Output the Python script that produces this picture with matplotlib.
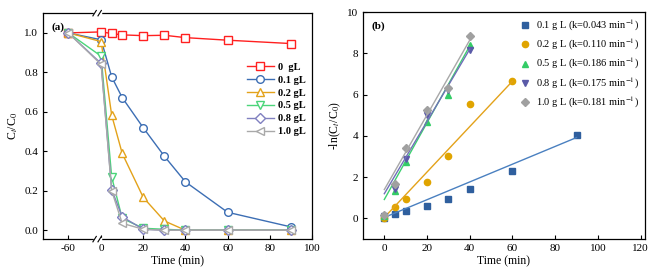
import numpy as np
import matplotlib
matplotlib.use("Agg")
import matplotlib.pyplot as plt
import matplotlib.transforms as mtransforms

plt.rcParams['font.family'] = ['Liberation Serif', 'DejaVu Serif']
plt.rcParams['font.size'] = 8
plt.rcParams['mathtext.fontset'] = 'stix'

# ---- panel (a) data ----
time_a = [-60, 0, 5, 10, 20, 30, 40, 60, 90]
labels_a = ['0  gL', '0.1 gL', '0.2 gL', '0.5 gL', '0.8 gL', '1.0 gL']
c_0 = [1.0, 1.005, 0.997, 0.99, 0.986, 0.988, 0.976, 0.963, 0.946]
c_01 = [1.0, 0.965, 0.777, 0.672, 0.519, 0.375, 0.245, 0.091, 0.017]
c_02 = [1.0, 0.956, 0.583, 0.389, 0.166, 0.047, 0.0, 0.0, 0.0]
c_05 = [1.0, 0.882, 0.27, 0.06, 0.01, 0.005, 0.0, 0.0, 0.0]
c_08 = [1.0, 0.845, 0.206, 0.068, 0.005, 0.0, 0.0, 0.0, 0.0]
c_10 = [1.0, 0.84, 0.20, 0.035, 0.005, 0.0, 0.0, 0.0, 0.0]
series_a = [c_0, c_01, c_02, c_05, c_08, c_10]
colors_a = ['#ff2020', '#3c6eb4', '#e3a21a', '#4bd57a', '#8080c0', '#a9a9a9']
markers_a = ['s', 'o', '^', 'v', 'D', '<']

# ---- panel (b) data ----
time_b = [0, 5, 10, 20, 30, 40, 60, 90]
labels_b = ['0.1 g L (k=0.043 min$^{-1}$)', '0.2 g L (k=0.110 min$^{-1}$)',
            '0.5 g L (k=0.186 min$^{-1}$)', '0.8 g L (k=0.175 min$^{-1}$)',
            '1.0 g L (k=0.181 min$^{-1}$)']
ln_01 = [0.0, 0.24, 0.37, 0.61, 0.94, 1.42, 2.32, 4.06]
ln_02 = [0.0, 0.56, 0.94, 1.77, 3.03, 5.53, 6.66]
ln_05 = [0.1, 1.34, 2.74, 4.65, 5.97, 8.42]
ln_08 = [0.1, 1.45, 2.9, 5.0, 6.24, 8.15]
ln_10 = [0.15, 1.65, 3.42, 5.27, 6.34, 8.82]
series_b = [ln_01, ln_02, ln_05, ln_08, ln_10]
k_vals = [0.043, 0.110, 0.186, 0.175, 0.181]
intercepts = [0.05, 0.05, 0.92, 1.2, 1.4]
marker_colors_b = ['#2f5f9e', '#e0a400', '#33cc66', '#5a5aa8', '#a0a0a0']
line_colors_b = ['#4a80c0', '#e3a21a', '#3dd070', '#7070b8', '#a8a8a8']
markers_b = ['s', 'o', '^', 'v', 'D']

# broken axis: shift the -60 region right
SHIFT = 44.4
def xmap(x):
    x = np.asarray(x, dtype=float)
    return np.where(x < -2, x + SHIFT, x)

fig = plt.figure(figsize=(6.54, 2.80), dpi=100)
ax1 = fig.add_axes([0.066, 0.146, 0.411, 0.807])
ax2 = fig.add_axes([0.555, 0.146, 0.431, 0.811])

for y, lab, col, m in zip(series_a, labels_a, colors_a, markers_a):
    ax1.plot(xmap(time_a), y, color=col, marker=m, mfc='white', mec=col,
             ms=5.5, lw=1.0, mew=1.0, label=lab)

ax1.set_xlim(-27.5, 100)
ax1.set_ylim(-0.045, 1.1)
ax1.set_xticks(xmap([-60, 0, 20, 40, 60, 80, 100]))
ax1.set_xticklabels(['-60', '0', '20', '40', '60', '80', '100'])
ax1.set_yticks(np.arange(0, 1.01, 0.2))
ax1.set_yticklabels(['0.0', '0.2', '0.4', '0.6', '0.8', '1.0'])
ax1.set_xlabel('Time (min)', fontsize=8.5, labelpad=2)
ax1.set_ylabel('C$_t$/C$_0$', fontsize=8.5, labelpad=3)
ax1.text(0.03, 0.96, '(a)', transform=ax1.transAxes, fontweight='bold',
         fontsize=8, va='top')
leg = ax1.legend(loc='upper right', bbox_to_anchor=(1.0, 0.81), frameon=False,
                 fontsize=7.5, handlelength=2.6, labelspacing=0.35,
                 handletextpad=0.4, borderaxespad=0.2)
for t in leg.get_texts():
    t.set_fontweight('bold')

# break marks on top and bottom spines
trans = mtransforms.blended_transform_factory(ax1.transData, ax1.transAxes)
xb = -1.9
for yb in (0.0, 1.0):
    ax1.plot([xb - 1.2, xb + 1.2], [yb, yb], color='white', lw=2.5,
             transform=trans, clip_on=False, zorder=5)
    for dx in (-1.2, 1.2):
        ax1.plot([xb + dx - 0.8, xb + dx + 0.8], [yb - 0.012, yb + 0.012],
                 color='black', lw=0.8, transform=trans, clip_on=False, zorder=6)

# panel (b)
for y, k, b0, lab, mc, lc, m in zip(series_b, k_vals, intercepts, labels_b,
                                    marker_colors_b, line_colors_b, markers_b):
    t = time_b[:len(y)]
    ax2.plot(t, y, linestyle='none', marker=m, color=mc, ms=4.5, label=lab)
    tl = np.array([0, t[-1]])
    ax2.plot(tl, b0 + k * tl, color=lc, lw=1.0)

ax2.set_xlim(-10, 122)
ax2.set_ylim(-1, 10)
ax2.set_xticks(range(0, 121, 20))
ax2.set_yticks(range(0, 11, 2))
ax2.set_xlabel('Time (min)', fontsize=8.5, labelpad=2)
ax2.set_ylabel('-ln(C$_t$/C$_0$)', fontsize=8.5, labelpad=3)
ax2.text(0.03, 0.96, '(b)', transform=ax2.transAxes, fontweight='bold',
         fontsize=8, va='top')
ax2.legend(loc='upper right', frameon=False, fontsize=7.5, handlelength=1.2,
           labelspacing=0.4, handletextpad=0.5, borderaxespad=0.15)

for ax in (ax1, ax2):
    ax.tick_params(direction='in', length=3, width=0.8, labelsize=8)
    for s in ax.spines.values():
        s.set_linewidth(0.9)

fig.savefig('out.png', dpi=100)
